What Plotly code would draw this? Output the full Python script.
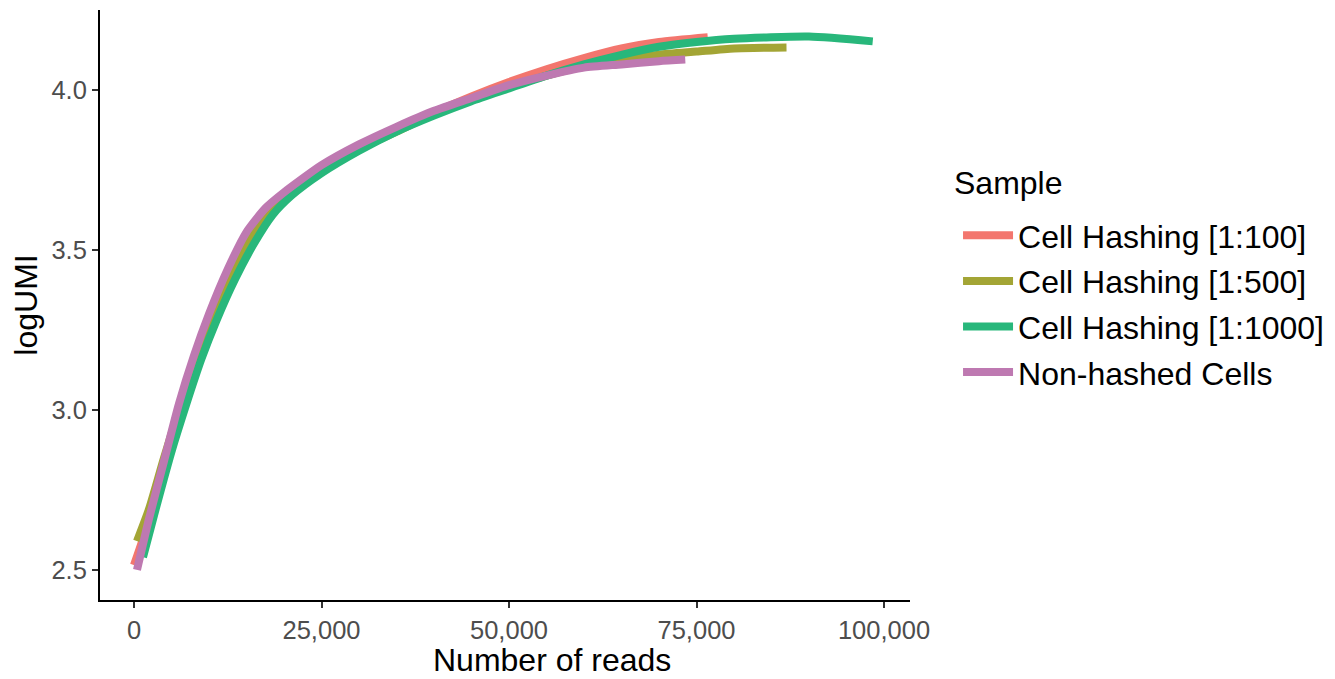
import plotly.graph_objects as go

samples = ["Cell Hashing [1:100]", "Cell Hashing [1:500]", "Cell Hashing [1:1000]", "Non-hashed Cells"]
colors = ["#F3766E", "#A3A535", "#28B77B", "#BE79B1"]

red_x = [0, 2000, 4000, 6000, 8000, 10000, 12500, 15000, 17500, 20000, 25000, 30000, 35000, 40000, 45000, 50000, 55000, 60000, 65000, 70000, 76500]
red_y = [2.515, 2.655, 2.83, 3.0, 3.15, 3.28, 3.42, 3.535, 3.615, 3.67, 3.755, 3.82, 3.875, 3.93, 3.98, 4.025, 4.065, 4.10, 4.13, 4.15, 4.165]

olive_x = [400, 2000, 4000, 6000, 8000, 10000, 12500, 15000, 17500, 20000, 25000, 30000, 35000, 40000, 45000, 50000, 55000, 60000, 65000, 70000, 75000, 80000, 87000]
olive_y = [2.59, 2.69, 2.85, 3.0, 3.145, 3.27, 3.41, 3.525, 3.61, 3.67, 3.75, 3.815, 3.87, 3.925, 3.97, 4.01, 4.045, 4.075, 4.095, 4.11, 4.12, 4.13, 4.133]

green_x = [1200, 3000, 5000, 7000, 9000, 11000, 13500, 16000, 18500, 21000, 25000, 30000, 35000, 40000, 45000, 50000, 55000, 60000, 65000, 70000, 75000, 80000, 90000, 98500]
green_y = [2.54, 2.70, 2.87, 3.02, 3.16, 3.28, 3.41, 3.52, 3.61, 3.67, 3.74, 3.81, 3.87, 3.92, 3.965, 4.005, 4.045, 4.08, 4.11, 4.135, 4.15, 4.16, 4.167, 4.152]

purple_x = [400, 2000, 4000, 6000, 8000, 10000, 12500, 15000, 17500, 20000, 25000, 30000, 35000, 40000, 45000, 50000, 55000, 60000, 65000, 70000, 73500]
purple_y = [2.50, 2.66, 2.84, 3.02, 3.17, 3.30, 3.44, 3.556, 3.63, 3.68, 3.765, 3.83, 3.885, 3.935, 3.975, 4.015, 4.045, 4.07, 4.08, 4.09, 4.095]

xs = [red_x, olive_x, green_x, purple_x]
ys = [red_y, olive_y, green_y, purple_y]

x_ticks = [0, 25000, 50000, 75000, 100000]
x_tick_labels = ["0", "25,000", "50,000", "75,000", "100,000"]
y_ticks = [2.5, 3.0, 3.5, 4.0]
y_tick_labels = ["2.5", "3.0", "3.5", "4.0"]

fig = go.Figure()
for i, name in enumerate(samples):
    fig.add_trace(go.Scatter(
        x=xs[i], y=ys[i], mode="lines", name=name,
        line=dict(color=colors[i], width=8, shape="spline", smoothing=0.6),
        legendgroup=name,
    ))

font_family = "Liberation Sans, Arial, sans-serif"
fig.update_layout(
    width=1327, height=671,
    margin=dict(l=92, r=425, t=2, b=79),
    plot_bgcolor="white", paper_bgcolor="white",
    font=dict(family=font_family, color="black"),
    showlegend=True,
    legend=dict(
        font=dict(size=32, color="black"),
        x=1.0593, xanchor="left", y=0.6644, yanchor="top",
        tracegroupgap=1, itemwidth=50,
    ),
    xaxis=dict(
        range=[-4533, 103467], tickvals=x_ticks, ticktext=x_tick_labels,
        showline=True, linecolor="black", linewidth=2, mirror=False,
        ticks="outside", ticklen=6, tickwidth=2, tickcolor="#333333",
        tickfont=dict(size=25.5, color="#4D4D4D"), showgrid=False, zeroline=False,
    ),
    yaxis=dict(
        range=[2.406, 4.25], tickvals=y_ticks, ticktext=y_tick_labels,
        showline=True, linecolor="black", linewidth=2, mirror=False,
        ticks="outside", ticklen=6, tickwidth=2, tickcolor="#333333",
        tickfont=dict(size=25.5, color="#4D4D4D"), showgrid=False, zeroline=False,
        title=dict(text="logUMI", font=dict(size=32, color="black"), standoff=10),
    ),
    annotations=[
        dict(
            text="Number of reads", xref="paper", yref="paper",
            x=0.558, y=0, yshift=-40, xanchor="center", yanchor="top",
            showarrow=False, font=dict(size=32, color="black"),
        ),
        dict(
            text="Sample", xref="paper", yref="paper",
            x=1.0519, y=0.7068, xanchor="left", yanchor="middle",
            showarrow=False, font=dict(size=32, color="black"),
        ),
    ],
)

fig.write_html("out.html")
